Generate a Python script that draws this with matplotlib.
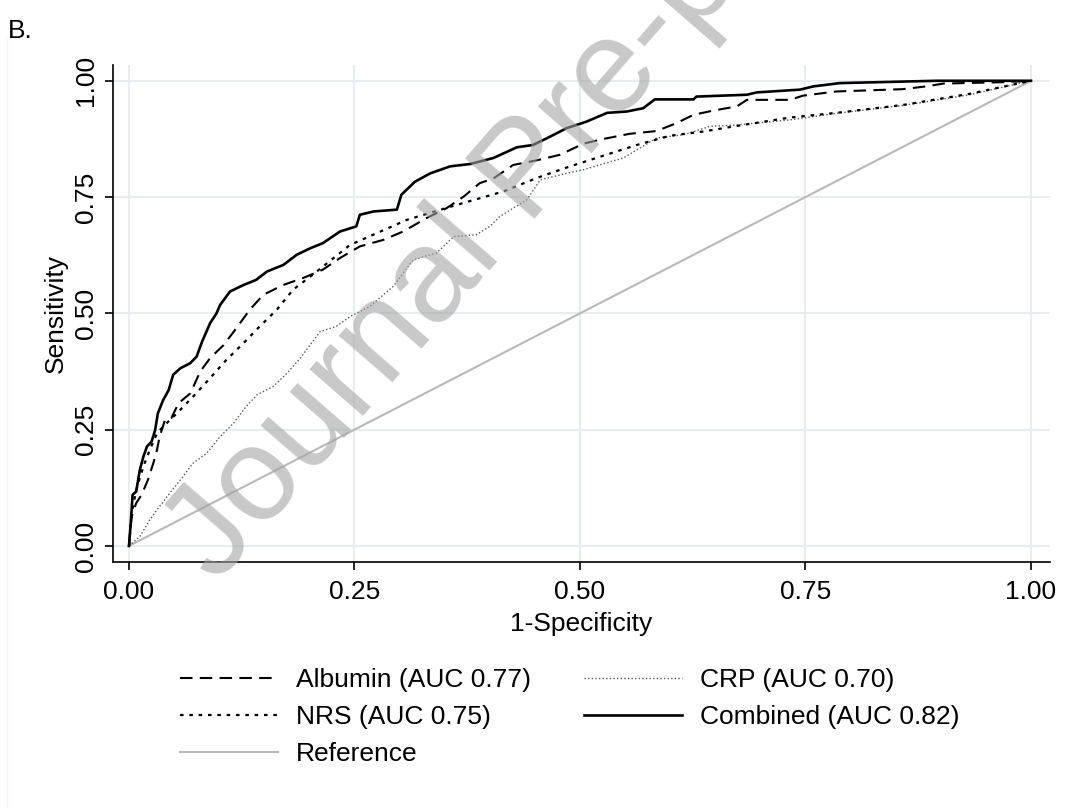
import matplotlib

matplotlib.use("Agg")

import matplotlib.pyplot as plt
from matplotlib.lines import Line2D

# ROC points (1-specificity, sensitivity)
combined_fpr = [
    0.000, 0.002, 0.004, 0.008, 0.012, 0.016, 0.020, 0.025, 0.029, 0.032,
    0.038, 0.044, 0.049, 0.057, 0.068, 0.075, 0.081, 0.090, 0.097, 0.101,
    0.112, 0.127, 0.141, 0.153, 0.171, 0.186, 0.201, 0.215, 0.234, 0.252,
    0.256, 0.271, 0.297, 0.302, 0.317, 0.334, 0.356, 0.378, 0.404, 0.430,
    0.448, 0.467, 0.485, 0.507, 0.530, 0.552, 0.570, 0.583, 0.626, 0.629,
    0.685, 0.696, 0.744, 0.759, 0.788, 0.895, 1.000,
]
combined_tpr = [
    0.000, 0.049, 0.110, 0.117, 0.163, 0.192, 0.214, 0.224, 0.249, 0.285,
    0.314, 0.335, 0.368, 0.382, 0.393, 0.407, 0.439, 0.479, 0.500, 0.518,
    0.547, 0.561, 0.572, 0.590, 0.604, 0.626, 0.640, 0.651, 0.676, 0.687,
    0.712, 0.719, 0.723, 0.755, 0.783, 0.801, 0.816, 0.821, 0.834, 0.857,
    0.862, 0.880, 0.898, 0.912, 0.931, 0.934, 0.941, 0.960, 0.960, 0.966,
    0.970, 0.975, 0.981, 0.988, 0.995, 1.000, 1.000,
]

albumin_fpr = [
    0.000, 0.003, 0.008, 0.014, 0.021, 0.027, 0.031, 0.034, 0.040, 0.047,
    0.055, 0.068, 0.079, 0.090, 0.105, 0.119, 0.134, 0.149, 0.171, 0.193,
    0.215, 0.234, 0.256, 0.282, 0.304, 0.330, 0.352, 0.371, 0.389, 0.404,
    0.426, 0.452, 0.478, 0.504, 0.526, 0.555, 0.585, 0.607, 0.626, 0.648,
    0.674, 0.685, 0.733, 0.747, 0.784, 0.858, 0.884, 0.903, 0.969, 1.000,
]
albumin_tpr = [
    0.000, 0.063, 0.092, 0.110, 0.142, 0.178, 0.206, 0.235, 0.271, 0.275,
    0.307, 0.328, 0.375, 0.404, 0.432, 0.468, 0.508, 0.540, 0.561, 0.576,
    0.594, 0.619, 0.644, 0.658, 0.676, 0.705, 0.726, 0.751, 0.780, 0.790,
    0.819, 0.829, 0.841, 0.865, 0.875, 0.886, 0.892, 0.909, 0.927, 0.936,
    0.945, 0.959, 0.959, 0.968, 0.977, 0.982, 0.988, 0.994, 0.997, 1.000,
]

nrs_fpr = [
    0.000, 0.003, 0.008, 0.016, 0.023, 0.031, 0.038, 0.053, 0.071, 0.090,
    0.108, 0.127, 0.145, 0.164, 0.182, 0.201, 0.245, 0.308, 0.363, 0.415,
    0.452, 0.489, 0.526, 0.563, 0.600, 0.637, 0.674, 0.733, 0.784, 0.858,
    0.932, 1.000,
]
nrs_tpr = [
    0.000, 0.070, 0.120, 0.171, 0.206, 0.242, 0.257, 0.285, 0.321, 0.361,
    0.400, 0.436, 0.472, 0.508, 0.551, 0.579, 0.647, 0.701, 0.733, 0.762,
    0.791, 0.816, 0.839, 0.862, 0.882, 0.891, 0.903, 0.921, 0.931, 0.948,
    0.972, 1.000,
]

crp_fpr = [
    0.000, 0.012, 0.023, 0.034, 0.045, 0.057, 0.071, 0.086, 0.101, 0.116,
    0.130, 0.142, 0.160, 0.175, 0.190, 0.212, 0.230, 0.245, 0.267, 0.293,
    0.315, 0.341, 0.360, 0.385, 0.400, 0.411, 0.441, 0.456, 0.485, 0.504,
    0.548, 0.585, 0.615, 0.644, 0.674, 0.733, 0.784, 0.858, 0.932, 1.000,
]
crp_tpr = [
    0.000, 0.020, 0.056, 0.085, 0.113, 0.142, 0.178, 0.199, 0.235, 0.264,
    0.300, 0.325, 0.343, 0.371, 0.404, 0.461, 0.472, 0.493, 0.515, 0.558,
    0.615, 0.630, 0.665, 0.669, 0.687, 0.708, 0.744, 0.787, 0.801, 0.809,
    0.834, 0.877, 0.884, 0.902, 0.905, 0.916, 0.930, 0.947, 0.970, 1.000,
]

reference_line = [0.0, 1.0]

legend_labels = {
    "albumin": "Albumin (AUC 0.77)",
    "nrs": "NRS (AUC 0.75)",
    "crp": "CRP (AUC 0.70)",
    "combined": "Combined (AUC 0.82)",
    "reference": "Reference",
}

ticks = [0.0, 0.25, 0.5, 0.75, 1.0]
tick_labels = ["0.00", "0.25", "0.50", "0.75", "1.00"]

plt.rcParams["font.family"] = ["Liberation Sans", "DejaVu Sans"]
plt.rcParams["font.size"] = 19

grid_color = "#e6eef1"

fig = plt.figure(figsize=(10.68, 8.08), dpi=100)
ax = fig.add_axes([0.1058, 0.3045, 0.8773, 0.6151])

ax.set_xlim(-0.0177, 1.021)
ax.set_ylim(-0.0344, 1.034)

for t in ticks:
    ax.axhline(t, color=grid_color, linewidth=1.5, zorder=0)
    ax.axvline(t, color=grid_color, linewidth=1.5, zorder=0)

ref_handle, = ax.plot(
    reference_line,
    reference_line,
    color="#b9b9b9",
    linewidth=1.5,
    zorder=1,
)

crp_handle, = ax.plot(
    crp_fpr,
    crp_tpr,
    color="#555555",
    linewidth=1.0,
    dashes=(1.0, 1.6),
    zorder=2,
)

nrs_handle, = ax.plot(
    nrs_fpr,
    nrs_tpr,
    color="black",
    linewidth=1.6,
    dashes=(1.6, 2.6),
    zorder=3,
)

albumin_handle, = ax.plot(
    albumin_fpr,
    albumin_tpr,
    color="black",
    linewidth=1.5,
    dashes=(6.0, 3.5),
    zorder=4,
)

combined_handle, = ax.plot(
    combined_fpr,
    combined_tpr,
    color="black",
    linewidth=1.9,
    zorder=5,
)

for side in ["top", "right"]:
    ax.spines[side].set_visible(False)

for side in ["left", "bottom"]:
    ax.spines[side].set_linewidth(1.2)

ax.set_xticks(ticks)
ax.set_xticklabels(tick_labels)
ax.set_yticks(ticks)
ax.set_yticklabels(tick_labels, rotation=90, va="center")

ax.tick_params(
    axis="both",
    direction="out",
    length=6,
    width=1.2,
    pad=5,
)
ax.tick_params(axis="x", pad=7)

ax.set_xlabel("1-Specificity", labelpad=6)
ax.set_ylabel("Sensitivity", labelpad=4)

ax.legend(
    [albumin_handle, nrs_handle, ref_handle, crp_handle, combined_handle],
    [
        legend_labels["albumin"],
        legend_labels["nrs"],
        legend_labels["reference"],
        legend_labels["crp"],
        legend_labels["combined"],
    ],
    loc="upper left",
    bbox_to_anchor=(180 / 1068, 1 - 668 / 808),
    bbox_transform=fig.transFigure,
    ncol=2,
    frameon=False,
    handlelength=3.7,
    handletextpad=0.7,
    columnspacing=2.0,
    labelspacing=0.5,
    borderpad=0,
    borderaxespad=0,
)

fig.text(8 / 1068, 1 - 38 / 808, "B.", ha="left", va="baseline")

# faint panel border on the left
fig.add_artist(
    Line2D(
        [7 / 1068, 7 / 1068],
        [0, 1 - 39 / 808],
        transform=fig.transFigure,
        color="#eef3f5",
        linewidth=1.0,
    )
)

# watermark
fig.text(
    217 / 1068,
    1 - 585 / 808,
    "Journal Pre-proof",
    rotation=49,
    rotation_mode="anchor",
    ha="left",
    va="baseline",
    fontsize=96,
    color="#a4a4a4",
    alpha=0.6,
    zorder=10,
)

fig.savefig("out.png", dpi=100)
plt.close(fig)
